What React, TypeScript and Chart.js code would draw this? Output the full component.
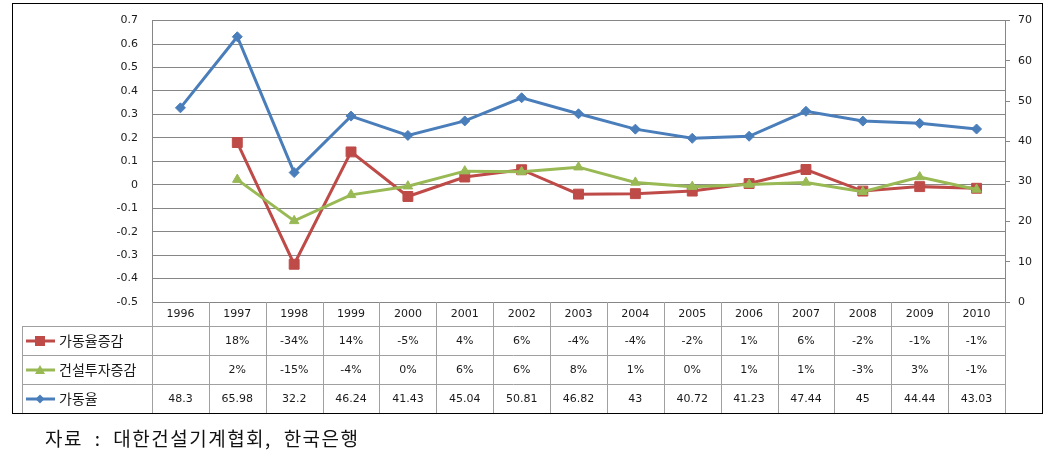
import React, { useEffect, useRef } from "react";
import { Chart, registerables } from "chart.js";

Chart.register(...registerables);

const years = ["1996", "1997", "1998", "1999", "2000", "2001", "2002", "2003", "2004", "2005", "2006", "2007", "2008", "2009", "2010"];

const seriesNames = ["가동율증감", "건설투자증감", "가동율"];

// 가동율증감 (left axis, fraction)
const rateChange = [null, 0.18, -0.339, 0.14, -0.05, 0.033, 0.064, -0.04, -0.038, -0.027, 0.005, 0.065, -0.027, -0.008, -0.015];
// 건설투자증감 (left axis, fraction)
const investChange = [null, 0.022, -0.154, -0.043, -0.006, 0.058, 0.055, 0.075, 0.01, -0.008, 0.001, 0.01, -0.03, 0.033, -0.02];
// 가동율 (right axis)
const operatingRate = [48.3, 65.98, 32.2, 46.24, 41.43, 45.04, 50.81, 46.82, 43, 40.72, 41.23, 47.44, 45, 44.44, 43.03];

const rateChangeLabels = ["", "18%", "-34%", "14%", "-5%", "4%", "6%", "-4%", "-4%", "-2%", "1%", "6%", "-2%", "-1%", "-1%"];
const investChangeLabels = ["", "2%", "-15%", "-4%", "0%", "6%", "6%", "8%", "1%", "0%", "1%", "1%", "-3%", "3%", "-1%"];
const operatingRateLabels = operatingRate.map((v) => String(v));

const leftMin = -0.5;
const leftMax = 0.7;
const leftStep = 0.1;
const rightMin = 0;
const rightMax = 70;
const rightStep = 10;

const sourceNote = "자료 : 대한건설기계협회, 한국은행";

const RED = "#BE4B48";
const GREEN = "#98B954";
const BLUE = "#4A7EBB";
const GRID = "#868686";
const TABLE_LINE = "#a0a0a0";
const TEXT = "#1a1a1a";

function drawMarker(ctx: CanvasRenderingContext2D, kind: string, x: number, y: number, color: string) {
  ctx.save();
  ctx.fillStyle = color;
  ctx.beginPath();
  if (kind === "rect") {
    ctx.rect(x - 5, y - 5, 10, 10);
  } else if (kind === "triangle") {
    ctx.moveTo(x, y - 5);
    ctx.lineTo(x + 5, y + 4);
    ctx.lineTo(x - 5, y + 4);
    ctx.closePath();
  } else {
    ctx.moveTo(x, y - 4.5);
    ctx.lineTo(x + 4.5, y);
    ctx.lineTo(x, y + 4.5);
    ctx.lineTo(x - 4.5, y);
    ctx.closePath();
  }
  ctx.fill();
  ctx.restore();
}

const tablePlugin = {
  id: "dataTable",
  afterDraw(chart: any) {
    const { ctx, chartArea, scales } = chart;
    const xs = scales.x;
    const n = years.length;
    const colW = (chartArea.right - chartArea.left) / n;
    const top = chartArea.bottom;
    const headerBottom = top + 24;
    const rowH = 29;
    const tableLeft = 22;
    const rowsBottom = headerBottom + rowH * 3;

    ctx.save();
    ctx.strokeStyle = TABLE_LINE;
    ctx.lineWidth = 1;
    for (let r = 0; r <= 3; r++) {
      const y = Math.round(headerBottom + rowH * r) + 0.5;
      ctx.beginPath();
      ctx.moveTo(tableLeft, y);
      ctx.lineTo(chartArea.right, y);
      ctx.stroke();
    }
    for (let i = 0; i <= n; i++) {
      const x = Math.round(chartArea.left + colW * i) + 0.5;
      ctx.beginPath();
      ctx.moveTo(x, top);
      ctx.lineTo(x, rowsBottom);
      ctx.stroke();
    }
    ctx.beginPath();
    ctx.moveTo(tableLeft + 0.5, headerBottom);
    ctx.lineTo(tableLeft + 0.5, rowsBottom);
    ctx.stroke();

    ctx.fillStyle = TEXT;
    ctx.font = "11px 'DejaVu Sans'";
    ctx.textAlign = "center";
    ctx.textBaseline = "middle";
    years.forEach((yr, i) => {
      ctx.fillText(yr, xs.getPixelForValue(i), top + 12.5);
    });

    const rows = [
      { name: seriesNames[0], labels: rateChangeLabels, color: RED, marker: "rect" },
      { name: seriesNames[1], labels: investChangeLabels, color: GREEN, marker: "triangle" },
      { name: seriesNames[2], labels: operatingRateLabels, color: BLUE, marker: "diamond" },
    ];
    rows.forEach((row, r) => {
      const cy = headerBottom + rowH * r + rowH / 2 + 0.5;
      ctx.fillStyle = TEXT;
      ctx.font = "11px 'DejaVu Sans'";
      ctx.textAlign = "center";
      row.labels.forEach((t, i) => {
        if (t) ctx.fillText(t, xs.getPixelForValue(i), cy);
      });
      ctx.strokeStyle = row.color;
      ctx.lineWidth = 3;
      ctx.beginPath();
      ctx.moveTo(26, cy);
      ctx.lineTo(55, cy);
      ctx.stroke();
      drawMarker(ctx, row.marker, 40, cy, row.color);
      ctx.fillStyle = TEXT;
      ctx.font = "14px 'Noto Sans CJK KR'";
      ctx.textAlign = "left";
      ctx.fillText(row.name, 59, cy);
    });

    ctx.strokeStyle = "#000";
    ctx.lineWidth = 1;
    ctx.strokeRect(12.5, 3.5, 1030, 410);
    ctx.restore();
  },
};

export default function App() {
  const ref = useRef<HTMLCanvasElement>(null);

  useEffect(() => {
    const canvas = ref.current;
    if (!canvas) return;
    const tickFont = { family: "'DejaVu Sans'", size: 11 };
    const chart = new Chart(canvas, {
      type: "line",
      data: {
        labels: years,
        datasets: [
          {
            label: seriesNames[2],
            data: operatingRate,
            yAxisID: "y1",
            borderColor: BLUE,
            backgroundColor: BLUE,
            borderWidth: 3,
            pointStyle: "rectRot",
            pointRadius: 5,
            pointBorderWidth: 1,
            tension: 0,
          },
          {
            label: seriesNames[1],
            data: investChange,
            yAxisID: "y",
            borderColor: GREEN,
            backgroundColor: GREEN,
            borderWidth: 3,
            pointStyle: "triangle",
            pointRadius: 5.5,
            pointBorderWidth: 1,
            tension: 0,
          },
          {
            label: seriesNames[0],
            data: rateChange,
            yAxisID: "y",
            borderColor: RED,
            backgroundColor: RED,
            borderWidth: 3,
            pointStyle: "rect",
            pointRadius: 7,
            pointBorderWidth: 1,
            tension: 0,
          },
        ],
      },
      options: {
        responsive: false,
        animation: false,
        events: [],
        layout: { padding: { left: 0, right: 0, top: 11, bottom: 165 } },
        plugins: { legend: { display: false }, tooltip: { enabled: false } },
        scales: {
          x: { type: "category", offset: true, display: false },
          y: {
            position: "left",
            min: leftMin,
            max: leftMax,
            afterFit: (s: any) => {
              s.width = 152;
            },
            ticks: {
              stepSize: leftStep,
              padding: 14,
              font: tickFont,
              color: TEXT,
              callback: (v: any) => String(Number(Number(v).toFixed(1))),
            },
            grid: { color: GRID, lineWidth: 1, drawTicks: false },
            border: { display: true, color: GRID, width: 1 },
          },
          y1: {
            position: "right",
            min: rightMin,
            max: rightMax,
            afterFit: (s: any) => {
              s.width = 40;
            },
            ticks: { stepSize: rightStep, padding: 8, font: tickFont, color: TEXT },
            grid: { drawOnChartArea: false, color: GRID, tickLength: 5, drawTicks: true },
            border: { display: true, color: GRID, width: 1 },
          },
        },
      },
      plugins: [tablePlugin],
    } as any);
    return () => chart.destroy();
  }, []);

  return (
    <div style={{ position: "fixed", left: 0, top: 0, width: 1045, height: 467, background: "#fff" }}>
      <canvas ref={ref} width={1045} height={467} style={{ display: "block", width: 1045, height: 467 }} />
      <div
        style={{
          position: "absolute",
          left: 45,
          top: 427,
          fontFamily: "'Noto Sans CJK KR', sans-serif",
          fontSize: 19,
          lineHeight: "22px",
          letterSpacing: "1.5px",
          wordSpacing: "6px",
          color: "#111",
          whiteSpace: "nowrap",
        }}
      >
        {sourceNote}
      </div>
    </div>
  );
}
